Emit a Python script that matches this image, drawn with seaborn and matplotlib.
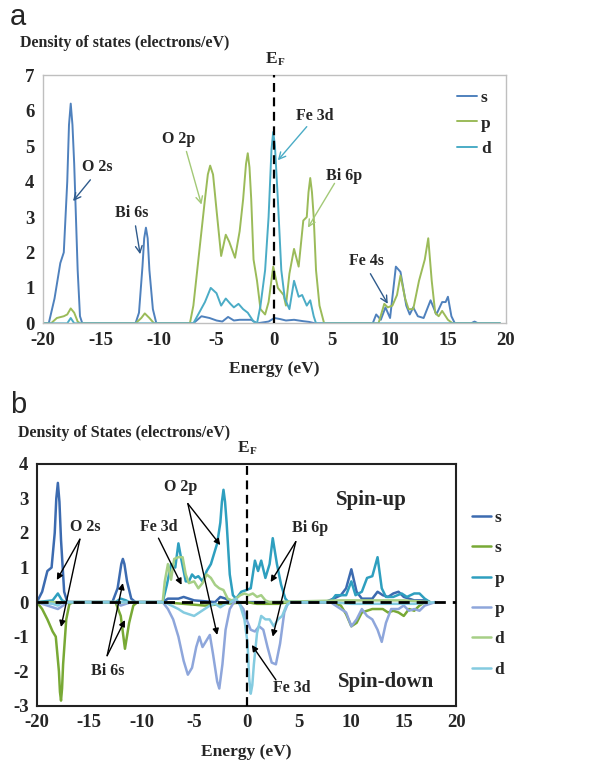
import matplotlib
matplotlib.use("Agg")
import matplotlib.pyplot as plt
import seaborn as sns

sns.set_theme(style="white")
plt.rcParams["font.family"] = ["Liberation Serif", "DejaVu Serif"]
plt.rcParams["font.weight"] = "bold"
plt.rcParams["axes.unicode_minus"] = False

# ---------------- panel a : total DOS by orbital ----------------
a_s_e = [-20, -19.5, -19.0, -18.5, -18.2, -17.9, -17.75, -17.6, -17.45, -17.3, -17.0, -16.8, -16.6,
         -12.0, -11.7, -11.4, -11.25, -11.1, -10.95, -10.8, -10.5, -10.2,
         -7.0, -6.3, -5.6, -5.0, -4.5, -4.0, -3.5, -3.0, -2.0, -1.5, -0.5, 0.0, 0.5, 1.0, 1.7, 2.5, 3.0, 3.5,
         8.5, 8.8, 9.2, 9.6, 10.0, 10.5, 10.9, 11.4, 11.7, 12.0, 12.4, 12.9, 13.5, 14.0, 14.5, 14.8, 15.0,
         15.3, 15.6, 17.0, 17.3, 17.6, 19.5]
a_s_v = [0, 0, 0.7, 1.7, 2.0, 4.0, 5.6, 6.2, 5.6, 4.5, 1.5, 0.2, 0,
         0, 0.3, 1.6, 2.4, 2.7, 2.4, 1.5, 0.4, 0,
         0, 0.2, 0.15, 0.08, 0.05, 0.18, 0.08, 0.1, 0.1, 0, 0.05, 0.15, 0.12, 0.08, 0.1, 0.06, 0.04, 0,
         0, 0.25, 0.1, 0.45, 0.15, 1.6, 1.45, 0.5, 0.25, 0.45, 0.2, 0.15, 0.65, 0.25, 0.6, 0.6, 0.75,
         0.2, 0, 0, 0.05, 0, 0]

a_p_e = [-20, -19.3, -18.8, -18.2, -17.9, -17.6, -17.3, -17.0, -16.8,
         -12.0, -11.5, -11.2, -10.8, -10.4,
         -7.3, -7.0, -6.5, -6.0, -5.75, -5.55, -5.3, -5.0, -4.6, -4.2, -3.9, -3.4, -3.0, -2.7, -2.45,
         -2.3, -2.15, -2.0, -1.8, -1.5, -1.2, -0.8, -0.5, -0.1, 0.3, 0.8, 1.0, 1.3, 1.7, 2.1, 2.5,
         2.8, 2.95, 3.1, 3.25, 3.4, 3.6, 3.9, 4.3,
         9.0, 9.5, 9.8, 10.2, 10.6, 10.9, 11.3, 11.6, 12.0, 12.5, 13.0, 13.3, 13.6, 13.9, 14.2, 14.5,
         15.0, 15.4, 19.5]
a_p_v = [0, 0, 0.15, 0.2, 0.25, 0.42, 0.3, 0.05, 0,
         0, 0.15, 0.28, 0.15, 0,
         0, 0.5, 2.0, 3.5, 4.2, 4.45, 4.2, 3.2, 1.9, 2.5, 2.3, 1.85, 2.6, 3.5, 4.5,
         4.8, 4.4, 3.5, 1.8, 1.2, 0.4, 0.25, 0.6, 1.6, 1.0, 0.8, 0.5, 1.4, 2.1, 1.6, 2.9,
         3.0, 3.7, 4.1, 3.7, 3.0, 1.5, 0.5, 0,
         0, 0.55, 0.45, 0.5, 0.8, 1.35, 0.7, 0.4, 0.4, 1.2, 1.8, 2.4, 1.2, 0.3, 0.2, 0.35,
         0.1, 0, 0]

a_d_e = [-20, -17.9, -17.6, -17.3,
         -7.0, -6.5, -6.0, -5.5, -5.0, -4.6, -4.2, -3.8, -3.5, -3.1, -2.7, -2.3, -1.8, -1.5, -1.2,
         -0.8, -0.5, -0.25, -0.1, 0.05, 0.3, 0.6, 0.9, 1.3, 1.7, 2.1, 2.4, 2.8, 3.1, 3.4, 3.6, 19.5]
a_d_v = [0, 0, 0.15, 0,
         0, 0.3, 0.6, 1.0, 0.85, 0.5, 0.7, 0.55, 0.45, 0.55, 0.4, 0.3, 0.05, 0, 0.5,
         1.5, 3.0, 4.9, 5.4, 5.0, 3.5, 1.5, 0.7, 0.4, 1.2, 0.75, 0.8, 0.5, 0.65, 0.2, 0, 0]

# ---------------- panel b : spin-resolved DOS ----------------
b_s_up_e = [-20, -19.5, -19.0, -18.6, -18.3, -18.15, -18.0, -17.85, -17.7, -17.4, -17.1,
            -12.8, -12.3, -11.95, -11.8, -11.65, -11.4, -11.0, -10.6,
            -8.0, -7.5, -6.5, -6.0, -5.0, -3.0, -2.5, -2.0, -1.5,
            7.5, 8.3, 9.0, 9.5, 10.0, 10.5, 11.0, 12.0, 12.5, 13.0, 13.5, 14.0, 14.5, 15.0, 15.5,
            16.0, 17.0, 17.5]
b_s_up_v = [0, 0.3, 0.9, 1.0, 2.0, 3.0, 3.45, 2.9, 1.8, 0.3, 0,
            0, 0.4, 1.1, 1.25, 1.1, 0.6, 0.1, 0,
            0, 0.1, 0.1, 0.15, 0.05, 0.0, 0.15, 0.1, 0,
            0, 0.1, 0.2, 0.4, 0.95, 0.3, 0.1, 0.1, 0.3, 0.2, 0.15, 0.25, 0.3, 0.15, 0.1,
            0.05, 0.05, 0]

b_s_dn_e = [-20, -19.5, -19.0, -18.5, -18.2, -17.9, -17.8, -17.7, -17.6, -17.5, -17.2, -16.9, -16.5,
            -12.5, -12.0, -11.6, -11.2, -10.8, -10.4,
            -8.0, -6.0, -4.0, -2.0, 0.0, 1.0, 3.0, 4.0,
            8.0, 9.0, 9.5, 10.0, 10.5, 11.0, 12.0, 13.0, 13.5, 14.0, 14.5, 15.0, 15.5, 16.0,
            16.5, 17.0]
b_s_dn_v = [0, -0.2, -0.5, -0.85, -1.0, -2.0, -2.6, -2.85, -2.5, -1.8, -0.5, -0.05, 0,
            0, -0.4, -1.35, -0.6, -0.1, 0,
            0, -0.05, -0.1, -0.05, 0, -0.05, -0.05, 0,
            0, -0.1, -0.35, -0.7, -0.6, -0.3, -0.2, -0.2, -0.3, -0.25, -0.3, -0.4, -0.2, -0.25,
            -0.1, 0]

b_p_up_e = [-20, -18.5, -18.0, -17.6, -17.2,
            -12.5, -12.0, -11.5, -11.2,
            -8.0, -7.6, -7.2, -6.8, -6.5, -6.2, -5.8, -5.5, -5.2, -4.9, -4.6, -4.2, -3.8, -3.4,
            -3.0, -2.8, -2.5, -2.35, -2.2, -2.05, -1.9, -1.6, -1.3, -1.0, -0.5, 0.0, 0.4, 0.8,
            1.1, 1.4, 1.8, 2.2, 2.5, 2.9, 3.3, 3.7, 4.0,
            8.0, 8.5, 9.0, 9.5, 10.0, 10.4, 11.0, 11.5, 12.0, 12.5, 12.9, 13.3, 14.0, 14.8,
            15.3, 16.0, 16.5, 17.0, 17.5]
b_p_up_v = [0, 0.05, 0.25, 0.05, 0,
            0, 0.1, 0.05, 0,
            0, 0.5, 1.1, 1.0, 1.7, 1.2, 0.6, 0.6, 0.8, 0.7, 0.75, 0.6, 0.9, 1.1,
            1.5, 1.7, 2.3, 2.9, 3.25, 2.9, 2.3, 0.8, 0.2, 0.1, 0.3, 0.35, 0.4, 1.2,
            0.9, 1.2, 0.7, 1.1, 1.85, 1.1, 0.5, 0.1, 0,
            0, 0.2, 0.2, 0.2, 0.6, 0.2, 0.3, 0.7, 0.75, 1.3, 0.4, 0.15, 0.15, 0.25,
            0.15, 0.25, 0.25, 0.1, 0]

b_p_dn_e = [-20, -19.0, -18.5, -18.0, -17.5, -17.0,
            -12.5, -12.0, -11.5, -11.0,
            -8.0, -7.5, -7.0, -6.5, -6.0, -5.6, -5.2, -4.8, -4.5, -4.2, -3.8, -3.5, -3.2, -2.8,
            -2.6, -2.3, -2.0, -1.6, -1.2, -0.8, -0.3, 0.0, 0.4, 0.8, 1.2, 1.6, 2.0, 2.4, 2.8,
            3.2, 3.6, 4.0,
            8.0, 8.5, 9.0, 9.5, 10.0, 10.5, 11.0, 11.5, 12.0, 12.5, 12.9, 13.3, 13.8, 14.5,
            15.0, 15.5, 16.0, 16.5, 17.0, 17.5, 18.0]
b_p_dn_v = [0, -0.1, -0.15, -0.2, -0.1, 0,
            0, -0.1, -0.05, 0,
            0, -0.2, -0.5, -1.0, -1.7, -2.1, -1.9, -1.3, -1.0, -1.3, -1.1, -0.95, -1.5, -2.3,
            -2.5, -1.8, -0.8, -0.2, 0, 0, -0.2, -0.5, -0.8, -0.85, -0.7, -0.8, -1.3, -1.75, -1.8,
            -1.2, -0.3, 0,
            0, -0.1, -0.2, -0.3, -0.7, -0.5, -0.2, -0.4, -0.5, -0.8, -1.15, -0.6, -0.2, -0.2,
            -0.1, -0.25, -0.2, -0.25, -0.1, -0.05, 0]

b_d_up_e = [-20, -8.0, -7.8, -7.5, -7.2, -6.9, -6.5, -6.1, -5.8, -5.5, -5.0, -4.6, -4.2,
            -3.8, -3.4, -3.0, -2.6, -2.2, -1.8, -1.4, -1.0, -0.6, -0.2, 0.2, 0.6, 1.0, 1.4,
            1.8, 2.2, 9.0, 12.0, 15.0, 17.5]
b_d_up_v = [0, 0, 0.6, 1.1, 0.65, 1.25, 1.3, 1.3, 0.8, 0.55, 0.6, 0.4, 0.55,
            0.8, 0.7, 0.5, 0.4, 0.35, 0.1, 0.05, 0.1, 0.2, 0.25, 0.2, 0.25, 0.15, 0.2,
            0.05, 0, 0.05, 0.05, 0.05, 0]

b_d_dn_e = [-20, -18.5, -18.0, -17.5,
            -8.0, -7.5, -6.5, -6.0, -5.5, -5.0, -4.5, -4.0, -3.5, -3.0, -2.5, -2.0, -1.5,
            -1.0, -0.6, -0.2, 0.1, 0.25, 0.4, 0.55, 0.7, 1.0, 1.4, 1.8, 2.2, 2.6, 3.0, 3.4,
            3.8, 4.2,
            8.0, 10.0, 12.0, 14.0, 16.0, 18.0]
b_d_dn_v = [0, -0.05, -0.1, 0,
            0, -0.05, -0.2, -0.3, -0.35, -0.4, -0.3, -0.2, -0.1, -0.05, -0.15, -0.05, 0,
            0.1, -0.1, -0.5, -1.2, -2.2, -2.65, -2.4, -1.8, -0.9, -0.4, -0.5, -0.5, -0.7, -0.5,
            -0.4, -0.1, 0,
            0, -0.05, -0.05, -0.05, -0.05, 0]

a_series = [("s", a_s_e, a_s_v, "#4F81BD"),
            ("p", a_p_e, a_p_v, "#9BBB59"),
            ("d", a_d_e, a_d_v, "#4BACC6")]
b_series = [("s", b_s_up_e, b_s_up_v, "#3C6BB0"),
            ("s", b_s_dn_e, b_s_dn_v, "#78A935"),
            ("p", b_p_up_e, b_p_up_v, "#2E9FBF"),
            ("p", b_p_dn_e, b_p_dn_v, "#8EA6DB"),
            ("d", b_d_up_e, b_d_up_v, "#A6CF86"),
            ("d", b_d_dn_e, b_d_dn_v, "#84CBE0")]

fig = plt.figure(figsize=(6.05, 7.68), dpi=100)
ax_a = fig.add_axes([0.071, 0.579, 0.765, 0.323])
ax_b = fig.add_axes([0.061, 0.081, 0.693, 0.315])

for lab, e, v, c in a_series:
    sns.lineplot(x=e, y=v, ax=ax_a, color=c, lw=1.4, label=lab, sort=False, estimator=None)
for lab, e, v, c in b_series:
    sns.lineplot(x=e, y=v, ax=ax_b, color=c, lw=1.8, label=lab, sort=False, estimator=None)

# axes styling
for ax, ylo, yhi in [(ax_a, 0, 7), (ax_b, -3, 4)]:
    ax.set_xlim(-20, 20)
    ax.set_ylim(ylo, yhi)
    ax.set_xticks(range(-20, 21, 5))
    ax.set_yticks(range(ylo, yhi + 1))
    ax.tick_params(length=0, labelsize=13.5, pad=6)
    for t in ax.get_xticklabels() + ax.get_yticklabels():
        t.set_fontweight("bold")
    ax.set_xlabel("Energy (eV)", fontsize=12.5, fontweight="bold", labelpad=9)
    ax.set_ylabel("")
    ax.axvline(0, color="black", lw=1.6, ls=(0, (4, 2.5)), zorder=5)

for sp in ax_a.spines.values():
    sp.set_color("#BFBFBF")
    sp.set_linewidth(1.0)
for sp in ax_b.spines.values():
    sp.set_color("#222222")
    sp.set_linewidth(1.5)
ax_b.axhline(0, color="black", lw=2.0, ls=(0, (4, 2.5)), zorder=5)

ax_a.legend(loc="upper left", bbox_to_anchor=(0.86, 1.005), frameon=False,
            handlelength=1.2, handletextpad=0.2, labelspacing=0.55,
            prop={"weight": "bold", "size": 12.5})
ax_b.legend(loc="upper left", bbox_to_anchor=(1.0, 0.875), frameon=False,
            handlelength=1.1, handletextpad=0.2, labelspacing=0.82,
            prop={"weight": "bold", "size": 12.5})

# E_F labels
for ax, ytop in [(ax_a, 7), (ax_b, 4)]:
    ax.annotate("E", xy=(0, ytop), xytext=(-2, 6), textcoords="offset points",
                ha="center", va="bottom", fontsize=12.5, fontweight="bold", annotation_clip=False)
    ax.annotate("F", xy=(0, ytop), xytext=(5, 6), textcoords="offset points",
                ha="center", va="bottom", fontsize=8, fontweight="bold", annotation_clip=False)

# titles and panel letters
fig.text(20 / 605, 1 - 43 / 768, "Density of states (electrons/eV)", fontsize=11.5,
         fontweight="bold", va="center", ha="left")
fig.text(18 / 605, 1 - 433 / 768, "Density of States (electrons/eV)", fontsize=11.5,
         fontweight="bold", va="center", ha="left")
fig.text(10 / 605, 1 - 17 / 768, "a", fontsize=21, fontweight="normal", family="Liberation Sans",
         va="center", ha="left")
fig.text(10 / 605, 1 - 405 / 768, "b", fontsize=21, fontweight="normal", family="Liberation Sans",
         va="center", ha="left")

# annotations panel a
fs = 11.5
def arr(ax, text, txy, start, end, color):
    ax.text(txy[0], txy[1], text, fontsize=fs, fontweight="bold", ha="center", va="center")
    ax.annotate("", xy=end, xytext=start,
                arrowprops=dict(arrowstyle="->", color=color, lw=1.0, shrinkA=0, shrinkB=0))

arr(ax_a, "O 2s", (-15.3, 4.4), (-15.9, 4.05), (-17.4, 3.45), "#2F5B8C")
arr(ax_a, "Bi 6s", (-12.3, 3.1), (-12.0, 2.75), (-11.6, 1.95), "#2F5B8C")
arr(ax_a, "O 2p", (-8.3, 5.2), (-7.6, 4.85), (-6.3, 3.35), "#A3C977")
arr(ax_a, "Fe 3d", (3.5, 5.85), (2.8, 5.55), (0.3, 4.6), "#4BACC6")
arr(ax_a, "Bi 6p", (6.0, 4.15), (5.2, 3.95), (2.9, 2.7), "#A3C977")
arr(ax_a, "Fe 4s", (8.0, 1.75), (8.3, 1.4), (9.8, 0.55), "#2F5B8C")

# annotations panel b
def arr_b(text, txy, start, ends, size=fs):
    ax_b.text(txy[0], txy[1], text, fontsize=size, fontweight="bold", ha="center", va="center")
    for end in ends:
        ax_b.annotate("", xy=end, xytext=start,
                      arrowprops=dict(arrowstyle="-|>", color="black", lw=1.0,
                                      mutation_scale=9, shrinkA=0, shrinkB=0))

arr_b("O 2s", (-15.4, 2.17), (-15.9, 1.82), [(-18.1, 0.64), (-17.7, -0.72)])
arr_b("Bi 6s", (-13.2, -2.0), (-13.3, -1.55), [(-11.8, 0.55), (-11.6, -0.52)])
arr_b("Fe 3d", (-8.4, 2.17), (-8.4, 1.85), [(-6.2, 0.5)])
arr_b("O 2p", (-6.3, 3.32), (-5.6, 2.85), [(-2.5, 1.65), (-2.8, -0.95)])
arr_b("Bi 6p", (6.1, 2.14), (4.7, 1.75), [(2.3, 0.58), (2.5, -1.0)])
arr_b("Fe 3d", (4.3, -2.49), (2.8, -2.25), [(0.5, -1.24)])
ax_b.text(11.95, 2.95, "Spin-up", fontsize=15, fontweight="bold", ha="center", va="center")
ax_b.text(13.3, -2.3, "Spin-down", fontsize=15, fontweight="bold", ha="center", va="center")

fig.savefig("out.png", dpi=100)
